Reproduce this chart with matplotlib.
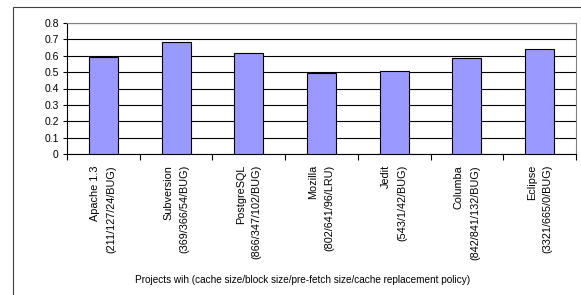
import matplotlib.pyplot as plt
from matplotlib.patches import Rectangle

# --- Data ---
projects = ["Apache 1.3", "Subversion", "PostgreSQL", "Mozilla", "Jedit", "Columba", "Eclipse"]
configs = ["(211/127/24/BUG)", "(369/366/54/BUG)", "(866/347/102/BUG)", "(802/641/96/LRU)",
           "(543/1/42/BUG)", "(842/841/132/BUG)", "(3321/665/0/BUG)"]
values = [0.595, 0.681, 0.618, 0.494, 0.506, 0.587, 0.644]
yticks = [0, 0.1, 0.2, 0.3, 0.4, 0.5, 0.6, 0.7, 0.8]

plt.rcParams["font.family"] = ["Liberation Sans", "DejaVu Sans"]

fig = plt.figure(figsize=(5.81, 2.95), dpi=100)
ax = fig.add_axes([67 / 581, 1 - 154 / 295, (576 - 67) / 581, (154 - 23) / 295])

# outer chart frame
fig.patches.append(Rectangle((13 / 581, -0.1), 1.1, 1 - 7 / 295 + 0.1, transform=fig.transFigure,
                             fill=False, edgecolor="#404040", linewidth=0.8))

x = range(len(projects))
ax.bar(x, values, width=0.4, color="#9999FF", edgecolor="black", linewidth=0.8, zorder=3)

ax.set_xlim(-0.5, len(projects) - 0.5)
ax.set_ylim(0, 0.8)
ax.set_yticks(yticks)
ax.set_yticklabels([f"{t:g}" for t in yticks], fontsize=7.5)
ax.yaxis.grid(True, color="black", linewidth=0.8, zorder=0)

# ticks on category boundaries, labels in the middle
ax.set_xticks([i + 0.5 for i in range(len(projects) - 1)] + [-0.5, len(projects) - 0.5])
ax.set_xticklabels([])
ax.tick_params(axis="x", direction="out", length=4, width=0.8)
ax.tick_params(axis="y", direction="out", length=3, width=0.8, pad=3)
for i, (p, c) in enumerate(zip(projects, configs)):
    ax.text(i, -0.084, p + "\n" + c, rotation=90, ha="center", va="top", multialignment="right",
            fontsize=7.8, linespacing=1.75, transform=ax.get_xaxis_transform())

for side in ["top", "right"]:
    ax.spines[side].set_color("#808080")
for side in ["left", "bottom"]:
    ax.spines[side].set_color("black")

fig.text(303 / 581, 1 - 280 / 295,
         "Projects wih (cache size/block size/pre-fetch size/cache replacement policy)",
         ha="center", va="center", fontsize=7.2)

plt.savefig("out.png", dpi=100)
plt.close()
